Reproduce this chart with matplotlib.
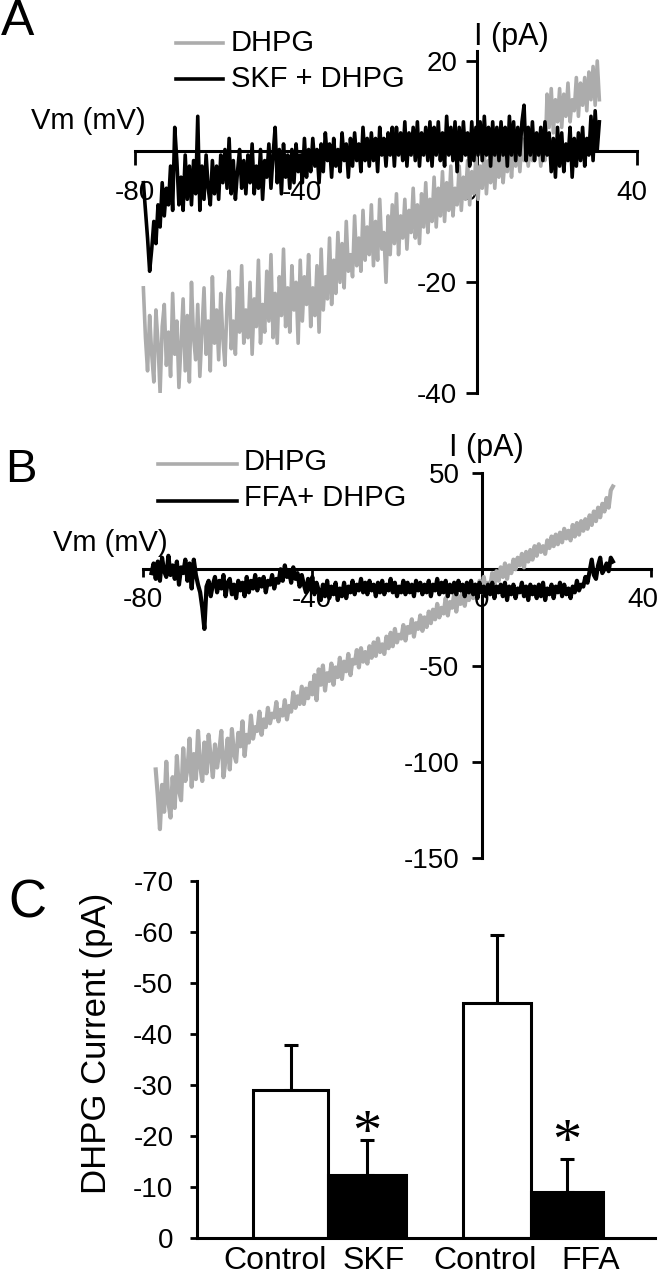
import numpy as np
import matplotlib.pyplot as plt
from matplotlib.lines import Line2D
from matplotlib.transforms import ScaledTranslation

plt.rcParams['font.family'] = ['Liberation Sans', 'DejaVu Sans']
plt.rcParams['axes.unicode_minus'] = False

# ---- panel A: I-V traces (pA), 0.5 mV steps ----
vm_a = np.arange(-78, 31.5, 0.5)
dhpg_a = [-21, -30, -36, -26, -33, -38, -25, -31, -40, -28,
          -24, -35, -29, -37, -22, -33, -27, -39, -31, -23,
          -36, -26, -38, -20, -30, -34, -24, -37, -29, -21,
          -33, -27, -36, -19, -31, -25, -34, -22, -30, -35,
          -24, -18, -32, -27, -33, -21, -29, -17, -31, -25,
          -30, -20, -33, -23, -28, -16, -31, -24, -29, -18,
          -27, -15, -30, -22, -31, -19, -26, -14, -28, -21,
          -29, -17, -25, -20, -31, -16, -27, -19, -24, -15,
          -28, -21, -26, -17, -29, -14, -25, -19, -23, -12,
          -24, -16, -22, -11, -20, -13, -21, -9, -18, -15,
          -19, -8, -17, -12, -18, -7, -16, -10, -15, -6,
          -17, -9, -16, -5, -14, -11, -20, -8, -15, -6,
          -13, -4, -15, -8, -12, -5, -14, -7, -11, -3,
          -12, -6, -13, -4, -10, -2, -11, -5, -9, -1,
          -10, -3, -8, 0, -9, -2, -7, 1, -8, -3,
          -6, 1, -7, -1, -5, 2, -6, 0, -4, 3,
          -5, 1, -3, 4, -4, 2, -2, 5, -3, 3,
          -1, 5, -2, 3, 0, 6, -1, 4, 1, 5,
          0, 6, 2, 4, 1, 5, 2, 6, 3, 5,
          1, 4, 2, 14, 8, 15, 7, 13, 9, 15,
          8, 14, 10, 16, 9, 13, 11, 17, 10, 16,
          12, 17, 11, 18, 13, 19, 12, 20, 13]
skf_a = [-2, -7, -12, -18, -14, -9, -13, -6, -10, -2,
         -8, -3, -6, 1, -7, 8, 2, -6, -1, -7,
         3, -5, 1, -6, 2, -4, 10, -7, 1, -5,
         3, -3, -6, 2, -4, 1, -5, 3, -2, 4,
         -3, 6, -4, 2, -5, 0, 4, -3, 2, -4,
         3, -2, 5, -4, 1, -3, 4, -5, 2, -1,
         5, -3, 3, 8, -2, 4, -4, 5, -1, 3,
         -3, 4, -2, 5, 0, 3, -2, 6, -1, 4,
         0, 6, 1, 4, -2, 5, 0, 7, 2, 5,
         -1, 6, 1, 4, 0, 7, 2, 5, -1, 6,
         1, 7, 2, 5, 0, 8, 2, 6, 1, 7,
         2, 6, 0, 8, 3, 6, 1, 7, 3, 8,
         1, 8, 3, 7, 2, 9, 1, 7, 3, 8,
         2, 9, 1, 7, 3, 8, 2, 9, 1, 8,
         3, 9, 2, 7, 1, 10, 3, 8, 2, 9,
         0, 8, 2, 9, 3, 7, 1, 9, 2, 8,
         3, 9, 2, 10, 3, 8, 1, 9, 3, 8,
         2, 9, 3, 8, 1, 10, 3, 9, 2, 8,
         3, 9, 12, 2, 8, 3, 9, 2, 7, 3,
         8, 2, 9, 3, 7, 0, 6, -1, 8, 1,
         7, 0, 5, 2, 8, -1, 6, 1, 7, 2,
         8, 1, 6, 3, 10, 2, 11, 4, 9]

# ---- panel B ----
vm_b_dhpg = np.arange(-77, 31.5, 0.5)
dhpg_b = [-104, -118, -135, -112, -126, -100, -121, -129, -108, -124,
          -97, -115, -120, -93, -110, -104, -88, -113, -96, -109,
          -84, -102, -110, -90, -106, -86, -98, -108, -91, -103,
          -95, -84, -108, -99, -88, -104, -83, -96, -100, -85,
          -92, -79, -97, -86, -90, -76, -88, -82, -84, -74,
          -86, -78, -82, -72, -80, -75, -77, -69, -79, -73,
          -76, -68, -78, -71, -74, -64, -72, -66, -70, -61,
          -70, -62, -67, -59, -65, -55, -68, -52, -60, -50,
          -63, -54, -58, -49, -60, -51, -56, -46, -57, -48,
          -53, -44, -55, -47, -49, -42, -51, -41, -48, -43,
          -49, -40, -46, -38, -45, -36, -43, -39, -44, -35,
          -41, -33, -40, -31, -38, -34, -36, -29, -37, -30,
          -33, -26, -35, -28, -31, -24, -32, -25, -30, -22,
          -28, -21, -26, -18, -25, -20, -23, -15, -24, -17,
          -20, -13, -22, -14, -18, -11, -19, -12, -16, -9,
          -15, -8, -14, -6, -12, -4, -11, -7, -9, -2,
          -8, -1, -6, 1, -4, 3, -5, 2, -2, 5,
          0, 6, 2, 8, 1, 9, 4, 10, 5, 12,
          7, 13, 9, 12, 8, 15, 11, 17, 12, 18,
          13, 19, 14, 21, 16, 20, 15, 23, 17, 24,
          18, 25, 20, 26, 21, 28, 23, 30, 25, 32,
          27, 34, 30, 37, 32, 41, 43]
vm_b_ffa = np.arange(-78, 31.5, 0.5)
ffa_b = [-2, 3, -5, 4, -6, 6, -1, -4, 7, -3,
         2, -5, 4, -8, 1, -2, 5, -6, 3, -10,
         5, -3, -8, -12, -20, -31, -9, -6, -14, -8,
         -4, -12, -6, -10, -3, -14, -7, -5, -13, -8,
         -15, -6, -11, -7, -14, -4, -12, -6, -10, -3,
         -11, -5, -9, -4, -12, -6, -8, -3, -10, -5,
         -7, 0, -6, 2, -4, -1, -7, 1, -5, -2,
         -9, -3, -8, -12, -5, -10, -4, -13, -7, -11,
         -16, -8, -14, -6, -15, -9, -13, -7, -16, -10,
         -14, -7, -15, -9, -12, -6, -13, -8, -11, -5,
         -12, -7, -13, -6, -11, -8, -14, -7, -12, -6,
         -13, -8, -11, -5, -12, -7, -14, -9, -12, -6,
         -13, -7, -12, -8, -14, -6, -11, -7, -13, -8,
         -12, -6, -14, -8, -11, -5, -13, -7, -12, -6,
         -14, -8, -12, -7, -13, -6, -11, -8, -14, -7,
         -12, -6, -13, -8, -15, -7, -12, -9, -14, -8,
         -13, -7, -15, -9, -12, -8, -14, -7, -16, -9,
         -13, -8, -15, -10, -12, -7, -14, -9, -16, -8,
         -13, -9, -15, -8, -14, -7, -16, -10, -13, -8,
         -15, -9, -12, -7, -14, -8, -13, -10, -15, -9,
         -12, -6, -11, -8, -9, -4, -7, -1, 5, -3,
         -5, 2, 6, -2, 0, 3, -1, 6, 4]

# ---- panel C: bar chart ----
categories = ['Control', 'SKF', 'Control', 'FFA']
means = [-29.1, -12.4, -46.1, -9.1]
sems = [8.7, 6.9, 13.3, 6.3]
star_y = [-23.2, -21.3]

W, H = 662, 1280
fig = plt.figure(figsize=(W / 100, H / 100), dpi=100)
GRAY = '#acacac'


def rect(left, top, right, bottom):
    return [left / W, 1 - bottom / H, (right - left) / W, (bottom - top) / H]


def ftext(x, y, s, size, ha='center', **kw):
    fig.text(x / W, 1 - y / H, s, fontsize=size, ha=ha, va='center', **kw)


def fline(x0, x1, y, color):
    fig.add_artist(Line2D([x0 / W, x1 / W], [1 - y / H] * 2, color=color, lw=2.6))


def px_shift(dx, dy):
    return ScaledTranslation(dx / 100, dy / 100, fig.dpi_scale_trans)


def style_iv(ax, xcross, ycross, xlen, xpad, ylen, ypad, last_dx):
    for s in ['top', 'right']:
        ax.spines[s].set_visible(False)
    ax.spines['left'].set_position(('data', xcross))
    ax.spines['bottom'].set_position(('data', ycross))
    for s in ['left', 'bottom']:
        ax.spines[s].set_linewidth(2.2)
    ax.set_xticks([-80, -40, 0, 40])
    ax.tick_params(axis='x', length=xlen, width=2, labelsize=20, pad=xpad)
    ax.tick_params(axis='y', length=ylen, width=2, labelsize=20, pad=ypad)
    ax.set_axisbelow(True)
    ax.patch.set_visible(False)
    lab = ax.get_xticklabels()[-1]
    lab.set_transform(lab.get_transform() + px_shift(last_dx, 0))


# A
ax_a = fig.add_axes(rect(135, 51, 637, 393))
ax_a.plot(vm_a, dhpg_a, color=GRAY, lw=2.6, zorder=3)
ax_a.plot(vm_a, skf_a, color='black', lw=2.6, zorder=4)
ax_a.set_xlim(-80, 40)
ax_a.set_ylim(-40, 21.8)
ax_a.set_yticks([20, -20, -40])
style_iv(ax_a, 1.7, 3.8, 10, 11, 8, 6, -5)

ftext(18, 22, 'A', 36)
ftext(88, 121, 'Vm (mV)', 21)
ftext(511, 37, 'I (pA)', 22)
fline(176, 223, 43, GRAY)
fline(176, 223, 79, 'black')
ftext(231, 43, 'DHPG', 21, ha='left')
ftext(231, 79, 'SKF + DHPG', 21, ha='left')

# B
ax_b = fig.add_axes(rect(143, 473, 651, 858))
ax_b.plot(vm_b_dhpg, dhpg_b, color=GRAY, lw=3, zorder=3)
ax_b.plot(vm_b_ffa, ffa_b, color='black', lw=3, zorder=4)
ax_b.set_xlim(-80, 40)
ax_b.set_ylim(-150, 50)
ax_b.set_yticks([50, -50, -100, -150])
style_iv(ax_b, 0, 0, 6, 7, 7, 9, -8)

ftext(21, 470, 'B', 34)
ftext(110, 543, 'Vm (mV)', 21)
ftext(486, 448, 'I (pA)', 22)
fline(158, 237, 464, GRAY)
fline(158, 237, 501, 'black')
ftext(244, 462, 'DHPG', 21, ha='left')
ftext(244, 498, 'FFA+ DHPG', 21, ha='left')

# C
ax_c = fig.add_axes(rect(197, 881, 655, 1238))
bar_x = [93.5, 170, 300, 370]
bar_w = [75, 78, 68, 72]
label_x = [78, 177, 288, 394]
ax_c.errorbar(bar_x, means, yerr=[sems, [0] * 4], fmt='none', ecolor='black',
              elinewidth=2.2, capsize=5, capthick=2.2, zorder=1)
ax_c.bar(bar_x, means, width=bar_w, color=['white', 'black', 'white', 'black'],
         edgecolor='black', linewidth=2.2, zorder=2)
for xi, yi in zip([bar_x[1], bar_x[3]], star_y):
    ax_c.text(xi, yi, '*', fontsize=42, ha='center', va='center',
              family='Liberation Serif',
              transform=ax_c.transData + px_shift(0, -15))
ax_c.set_xlim(0, 458)
ax_c.set_ylim(0, -70)
ax_c.set_yticks(range(0, -80, -10))
ax_c.set_xticks(label_x, categories)
for s in ['top', 'right']:
    ax_c.spines[s].set_visible(False)
for s in ['left', 'bottom']:
    ax_c.spines[s].set_linewidth(2.2)
ax_c.tick_params(axis='y', length=5, width=2, labelsize=20, pad=12)
ax_c.tick_params(axis='x', length=0, labelsize=23, pad=6)
ftext(97, 1043, 'DHPG Current (pA)', 25, rotation=90)
ftext(27, 903, 'C', 38)

fig.savefig('out.png', dpi=100)
